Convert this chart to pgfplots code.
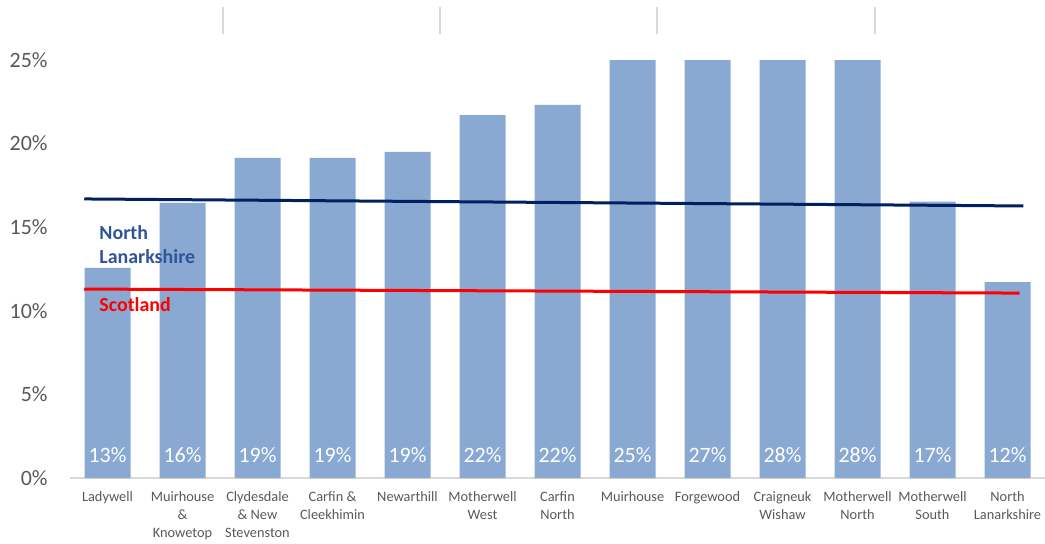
\documentclass[border=0pt]{standalone}
\usepackage{fontspec}
\setmainfont{Carlito}
\usepackage{pgfplots}
\pgfplotsset{compat=1.18}
\usetikzlibrary{calc}

\definecolor{barblue}{RGB}{137,169,210}
\definecolor{navy}{RGB}{0,32,96}
\definecolor{nlblue}{RGB}{47,85,151}
\definecolor{tickgray}{RGB}{89,89,89}
\definecolor{basegray}{RGB}{217,217,217}

% x  = bar position, val = bar height (clipped at 25 by the axis), lab = printed label
\pgfplotstableread{
x  val    lab base
0  12.56  13  0
1  16.45  16  0
2  19.14  19  0
3  19.14  19  0
4  19.50  19  0
5  21.71  22  0
6  22.31  22  0
7  25.00  25  0
8  27.00  27  0
9  28.00  28  0
10 28.00  28  0
11 16.53  17  0
12 11.72  12  0
}\wards

\begin{document}
\begin{tikzpicture}
\begin{axis}[
    name=ax,
    scale only axis,
    width=487.5bp, height=209bp,
    xmin=-0.5, xmax=12.5,
    ymin=0, ymax=25,
    axis x line*=bottom,
    axis y line*=left,
    x axis line style={draw=basegray, line width=1bp},
    y axis line style={draw=none},
    tick style={draw=none},
    xtick={0,...,12},
    xticklabels={Ladywell, {Muirhouse\\\&\\Knowetop}, {Clydesdale\\\& New\\Stevenston},
        {Carfin \&\\Cleekhimin}, Newarthill, {Motherwell\\West}, {Carfin\\North},
        Muirhouse, Forgewood, {Craigneuk\\Wishaw}, {Motherwell\\North},
        {Motherwell\\South}, {North\\Lanarkshire}},
    xticklabel style={font=\fontsize{7.2}{9}\selectfont, align=center, text=tickgray,
        anchor=north, inner sep=0pt, yshift=-6.5bp},
    ytick={0,5,...,25},
    yticklabel={\pgfmathprintnumber{\tick}\%},
    yticklabel style={font=\fontsize{11}{13}\selectfont, text=tickgray,
        anchor=east, inner sep=0pt, xshift=-11bp},
    /pgf/number format/assume math mode=true,
]
\addplot[ybar, bar width=23bp, fill=barblue, draw=none] table[x=x, y=val] {\wards};

\addplot[draw=none, mark=none,
    point meta=explicit symbolic,
    nodes near coords={\pgfplotspointmeta\%},
    nodes near coords style={anchor=base, yshift=8bp, text=white,
        font=\fontsize{11}{13}\selectfont}]
    table[x=x, y=base, meta=lab] {\wards};

\addplot[navy, line width=1.5bp] coordinates {(-0.31,16.69) (12.21,16.27)};
\addplot[red, line width=1.5bp] coordinates {(-0.31,11.30) (12.16,11.06)};

\node[anchor=base west, inner sep=0pt, text=nlblue, font=\fontsize{10}{12}\bfseries]
    at (axis cs:-0.113,14.29) {North};
\node[anchor=base west, inner sep=0pt, text=nlblue, font=\fontsize{10}{12}\bfseries]
    at (axis cs:-0.113,12.80) {Lanarkshire};
\node[anchor=base west, inner sep=0pt, text=red, font=\fontsize{10}{12}\bfseries]
    at (axis cs:-0.113,9.93) {Scotland};
\end{axis}

% faint separators left over above the plot area
\foreach \xx in {76.5,185,293.5,402.5}
    \draw[basegray, line width=0.6bp] ($(ax.south west)+(\xx bp,222bp)$) -- ++(0,13.5bp);

\pgfresetboundingbox
\path[use as bounding box] ($(ax.south west)+(-35bp,-33bp)$) rectangle ($(ax.south west)+(487.5bp,239bp)$);
\end{tikzpicture}
\end{document}
